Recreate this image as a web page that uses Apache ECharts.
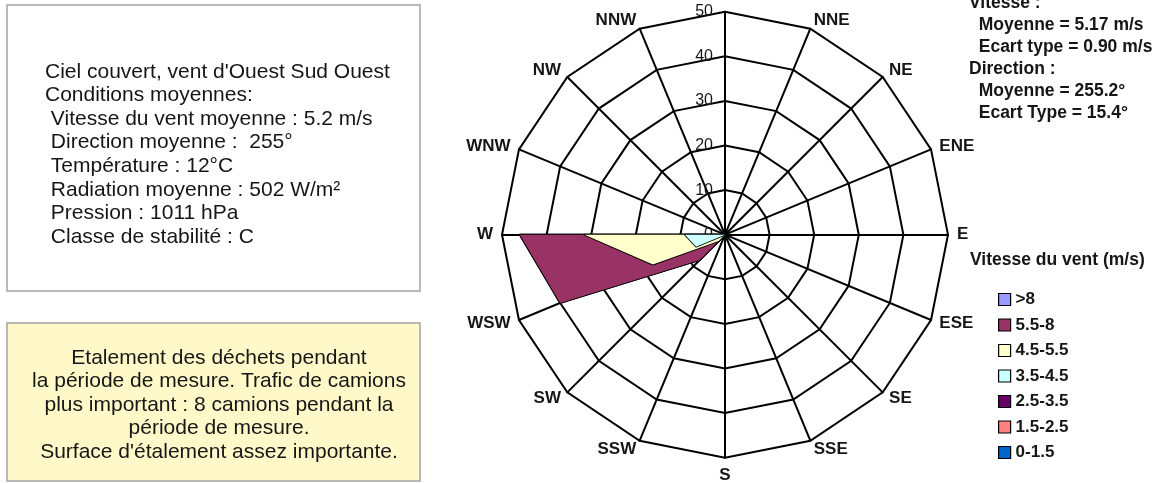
<!DOCTYPE html>
<html>
<head>
<meta charset="utf-8">
<script src="https://cdn.jsdelivr.net/npm/echarts@6/dist/echarts.min.js"></script>
<style>
  html, body { margin: 0; padding: 0; background: #fff; }
  #chart { width: 1163px; height: 483px; }
</style>
</head>
<body>
<div id="chart"></div>
<script>
// Compass sectors, clockwise from north
const directions = ['N', 'NNE', 'NE', 'ENE', 'E', 'ESE', 'SE', 'SSE', 'S', 'SSW', 'SW', 'WSW', 'W', 'WNW', 'NW', 'NNW'];

// Wind-speed classes (m/s), from the calmest to the strongest
const speedClasses = ['0-1.5', '1.5-2.5', '2.5-3.5', '3.5-4.5', '4.5-5.5', '5.5-8', '>8'];
const classColors  = ['#0066CC', '#FF8080', '#660066', '#CCFFFF', '#FFFFCC', '#993366', '#9999FF'];

// Frequency (%) of each speed class per sector, in compass order (N ... NNW)
const freq_0_15   = [0, 0, 0, 0, 0, 0, 0, 0, 0, 0, 0,    0,    0,    0, 0, 0];
const freq_15_25  = [0, 0, 0, 0, 0, 0, 0, 0, 0, 0, 0,    0,    0,    0, 0, 0];
const freq_25_35  = [0, 0, 0, 0, 0, 0, 0, 0, 0, 0, 0,    0,    0,    0, 0, 0];
const freq_35_45  = [0, 0, 0, 0, 0, 0, 0, 0, 0, 0, 0,    7,    9,    0, 0, 0];
const freq_45_55  = [0, 0, 0, 0, 0, 0, 0, 0, 0, 0, 2,    10.5, 22.5, 0, 0, 0];
const freq_55_8   = [0, 0, 0, 0, 0, 0, 0, 0, 0, 0, 6,    22.5, 14.5, 0, 0, 0];
const freq_8_plus = [0, 0, 0, 0, 0, 0, 0, 0, 0, 0, 0,    0,    0,    0, 0, 0];

// Radial scale (%)
const radialTicks = [0, 10, 20, 30, 40, 50];

const FONT = "'Liberation Sans', Arial, Helvetica, sans-serif";
const INK = '#161616';

const classFreqs = [freq_0_15, freq_15_25, freq_25_35, freq_35_45, freq_45_55, freq_55_8, freq_8_plus];

// Radar axes run counter-clockwise, so walk the compass backwards from north
const axisOrder = directions.map((d, i) => (directions.length - i) % directions.length);

// Each class is drawn as the cumulative frequency up to that class
const cumulative = [];
classFreqs.forEach((f, k) => {
  cumulative.push(f.map((v, i) => v + (k > 0 ? cumulative[k - 1][i] : 0)));
});

const rMax = radialTicks[radialTicks.length - 1];

const indicator = axisOrder.map((i, n) => {
  const ind = { name: directions[i], min: radialTicks[0], max: rMax };
  if (n === 0) ind.axisLabel = { show: true };   // scale labels along the north spoke
  return ind;
});

// Strongest class first so the calmer classes are painted on top
const seriesData = [];
for (let k = speedClasses.length - 1; k >= 0; k--) {
  seriesData.push({
    name: speedClasses[k],
    value: axisOrder.map(i => cumulative[k][i]),
    itemStyle: { color: classColors[k] },
    areaStyle: { color: classColors[k], opacity: 1 },
    lineStyle: { color: '#000', width: 1.8 }
  });
}

const infoLines = [
  "Ciel couvert, vent d'Ouest Sud Ouest",
  'Conditions moyennes:',
  ' Vitesse du vent moyenne : 5.2 m/s',
  ' Direction moyenne :  255°',
  ' Température : 12°C',
  ' Radiation moyenne : 502 W/m²',
  ' Pression : 1011 hPa',
  ' Classe de stabilité : C'
];
const noteLines = [
  'Etalement des déchets pendant',
  'la période de mesure. Trafic de camions',
  'plus important : 8 camions pendant la',
  'période de mesure.',
  "Surface d'étalement assez importante."
];
const statLines = [
  'Vitesse :',
  '  Moyenne = 5.17 m/s',
  '  Ecart type = 0.90 m/s',
  'Direction :',
  '  Moyenne = 255.2°',
  '  Ecart Type = 15.4°'
];

const chart = echarts.init(document.getElementById('chart'), null, { renderer: 'canvas' });

chart.setOption({
  animation: false,
  backgroundColor: '#fff',
  textStyle: { fontFamily: FONT },
  radar: {
    center: [725, 234.7],
    radius: 223,
    startAngle: 90,
    shape: 'polygon',
    splitNumber: radialTicks.length - 1,
    nameGap: 9,
    axisName: {
      color: INK,
      fontSize: 17,
      fontWeight: 'bold',
      fontFamily: FONT,
      formatter: name => (name === 'N' ? '' : name)   // north spoke carries the scale instead
    },
    axisLine: { lineStyle: { color: '#000', width: 2 } },
    splitLine: { lineStyle: { color: '#000', width: 2 } },
    splitArea: { show: false },
    axisTick: { show: false },
    axisLabel: { show: false, color: INK, fontSize: 16, fontFamily: FONT, margin: 12 },
    indicator: indicator
  },
  legend: {
    orient: 'vertical',
    left: 993,
    top: 286,
    icon: 'rect',
    itemWidth: 12,
    itemHeight: 12,
    itemGap: 8.5,
    selectedMode: false,
    data: speedClasses.slice().reverse(),
    itemStyle: { borderColor: '#000', borderWidth: 1.2 },
    textStyle: { color: INK, fontSize: 17, fontWeight: 'bold', fontFamily: FONT, lineHeight: 17 }
  },
  series: [{
    type: 'radar',
    symbol: 'none',
    silent: true,
    emphasis: { disabled: true },
    data: seriesData
  }],
  graphic: [
    {
      type: 'rect',
      shape: { x: 7, y: 5, width: 413, height: 286 },
      style: { fill: '#fff', stroke: '#a3a3a3', lineWidth: 1.5 }
    },
    {
      type: 'text',
      x: 45, y: 60,
      style: {
        text: infoLines.join('\n'),
        font: '21px ' + FONT,
        lineHeight: 23.6,
        fill: INK,
        textVerticalAlign: 'top'
      }
    },
    {
      type: 'rect',
      shape: { x: 7, y: 323, width: 413, height: 158 },
      style: { fill: '#FFF8C8', stroke: '#a3a3a3', lineWidth: 1.5 }
    },
    {
      type: 'text',
      x: 219, y: 346.6,
      style: {
        text: noteLines.join('\n'),
        font: '21px ' + FONT,
        lineHeight: 23.4,
        fill: INK,
        textAlign: 'center',
        textVerticalAlign: 'top'
      }
    },
    {
      type: 'text',
      x: 969, y: -8,
      style: {
        text: statLines.join('\n'),
        font: 'bold 17.5px ' + FONT,
        lineHeight: 22,
        fill: INK,
        textVerticalAlign: 'top'
      }
    },
    {
      type: 'text',
      x: 970, y: 251.5,
      style: {
        text: 'Vitesse du vent (m/s)',
        font: 'bold 17.5px ' + FONT,
        fill: INK,
        textVerticalAlign: 'top'
      }
    }
  ]
});
</script>
</body>
</html>
